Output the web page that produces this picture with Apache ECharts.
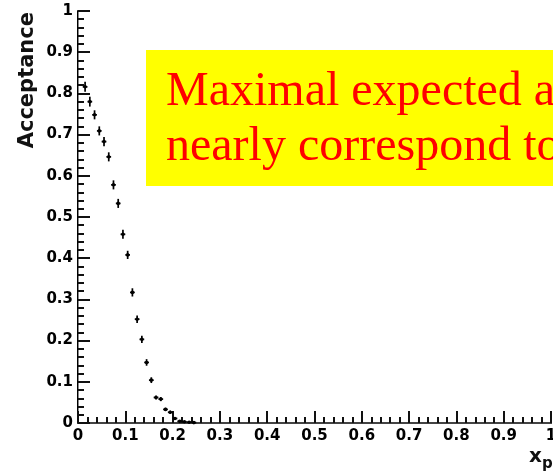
<!DOCTYPE html>
<html>
<head>
<meta charset="utf-8">
<script src="https://cdn.jsdelivr.net/npm/echarts@6/dist/echarts.min.js"></script>
<style>
  html, body { margin: 0; padding: 0; background: #fff; }
  #chart { width: 553px; height: 472px; }
</style>
</head>
<body>
<div id="chart"></div>
<script>
// Acceptance per x_p bin (bin width 0.01), with statistical errors
const xCenters = [0.015, 0.025, 0.035, 0.045, 0.055, 0.065, 0.075, 0.085, 0.095, 0.105,
                  0.115, 0.125, 0.135, 0.145, 0.155, 0.165, 0.175, 0.185, 0.195, 0.205,
                  0.215, 0.225, 0.235, 0.245];
const acceptance = [0.816, 0.780, 0.748, 0.709, 0.683, 0.646, 0.578, 0.533, 0.458, 0.408,
                    0.317, 0.252, 0.203, 0.147, 0.104, 0.062, 0.058, 0.033, 0.026, 0.011,
                    0.004, 0.003, 0.002, 0.001];
const acceptanceErr = [0.012, 0.012, 0.011, 0.011, 0.011, 0.011, 0.011, 0.011, 0.011, 0.010,
                       0.010, 0.009, 0.009, 0.008, 0.007, 0.005, 0.005, 0.004, 0.004, 0.003,
                       0.002, 0.002, 0.001, 0.001];
const binHalfWidth = 0.005;

const yTitle = 'Acceptance';
const xTitle = 'x';
const xTitleSub = 'p';
const noteLines = ['Maximal expected a', 'nearly correspond to'];

const points = xCenters.map((x, i) => [x, acceptance[i], acceptanceErr[i], binHalfWidth]);

const tickFont = { fontFamily: '"DejaVu Sans"', fontWeight: 'bold', fontSize: 15, color: '#000' };

const chart = echarts.init(document.getElementById('chart'), null, { renderer: 'canvas' });

chart.setOption({
  animation: false,
  backgroundColor: '#fff',
  grid: { left: 78, right: 2, top: 11, bottom: 49, containLabel: false, outerBoundsMode: 'none' },
  xAxis: [
    {
      type: 'value', min: 0, max: 1, interval: 0.1, position: 'bottom',
      axisLine: { show: true, lineStyle: { color: '#000', width: 2 } },
      axisTick: { show: true, inside: true, length: 12, lineStyle: { color: '#111', width: 2 } },
      minorTick: { show: true, splitNumber: 5, length: 6, lineStyle: { color: '#111', width: 2 } },
      splitLine: { show: false },
      axisLabel: Object.assign({ margin: 6, showMinLabel: true, showMaxLabel: true, hideOverlap: false }, tickFont)
    },
    {
      type: 'value', min: 0, max: 1, position: 'top',
      axisLine: { show: true, lineStyle: { color: '#444', width: 2 } },
      axisTick: { show: false }, axisLabel: { show: false }, splitLine: { show: false }
    }
  ],
  yAxis: [
    {
      type: 'value', min: 0, max: 1, interval: 0.1, position: 'left',
      axisLine: { show: true, lineStyle: { color: '#000', width: 2 } },
      axisTick: { show: true, inside: true, length: 12, lineStyle: { color: '#111', width: 2 } },
      minorTick: { show: true, splitNumber: 5, length: 6, lineStyle: { color: '#111', width: 2 } },
      splitLine: { show: false },
      axisLabel: Object.assign({ margin: 5, showMinLabel: true, showMaxLabel: true, hideOverlap: false }, tickFont)
    },
    {
      type: 'value', min: 0, max: 1, position: 'right',
      axisLine: { show: true, lineStyle: { color: '#888', width: 1 } },
      axisTick: { show: false }, axisLabel: { show: false }, splitLine: { show: false }
    }
  ],
  series: [
    {
      type: 'custom',
      xAxisIndex: 0, yAxisIndex: 0,
      data: points,
      encode: { x: 0, y: 1 },
      clip: false,
      z: 5,
      renderItem: function (params, api) {
        const x = api.value(0), y = api.value(1), e = api.value(2), h = api.value(3);
        const c = api.coord([x, y]);
        const top = api.coord([x, y + e]);
        const bot = api.coord([x, y - e]);
        const l = api.coord([x - h, y]);
        const r = api.coord([x + h, y]);
        const ink = { stroke: '#000', lineWidth: 1.7 };
        return {
          type: 'group',
          children: [
            { type: 'line', shape: { x1: c[0], y1: top[1], x2: c[0], y2: bot[1] }, style: ink },
            { type: 'line', shape: { x1: l[0], y1: c[1], x2: r[0], y2: c[1] }, style: ink },
            { type: 'circle', shape: { cx: c[0], cy: c[1], r: 1.8 }, style: { fill: '#000' } }
          ]
        };
      }
    }
  ],
  graphic: [
    {
      type: 'text', x: 28, y: 12, rotation: Math.PI / 2, z: 10,
      style: {
        text: yTitle, fill: '#111', align: 'right', verticalAlign: 'middle',
        font: 'bold 21px "DejaVu Sans"'
      }
    },
    {
      type: 'text', x: 529, y: 441, z: 10,
      style: {
        text: '{a|' + xTitle + '}{b|' + xTitleSub + '}', fill: '#111',
        rich: {
          a: { font: 'bold 20px "DejaVu Sans"', fill: '#111' },
          b: { font: 'bold 15px "DejaVu Sans"', fill: '#111', padding: [16, 0, 0, 0] }
        }
      }
    },
    {
      type: 'rect', z: 20,
      shape: { x: 146, y: 50, width: 420, height: 136 },
      style: { fill: '#ffff00' }
    },
    {
      type: 'text', z: 21, x: 166, y: 92,
      style: { text: noteLines[0], fill: '#ff0000', font: '48px "Liberation Serif"', verticalAlign: 'middle' }
    },
    {
      type: 'text', z: 21, x: 166, y: 147,
      style: { text: noteLines[1], fill: '#ff0000', font: '48px "Liberation Serif"', verticalAlign: 'middle' }
    }
  ]
});
</script>
</body>
</html>
